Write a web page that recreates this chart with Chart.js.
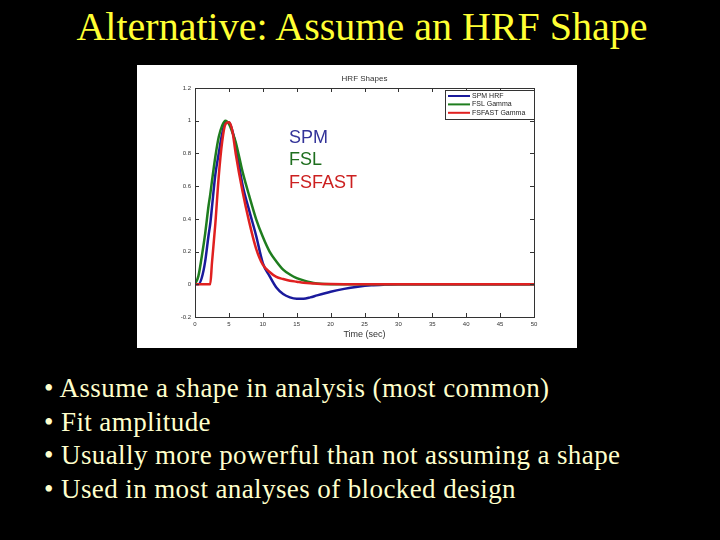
<!DOCTYPE html>
<html>
<head>
<meta charset="utf-8">
<script src="https://cdn.jsdelivr.net/npm/chart.js@4"></script>
<style>
  html, body { margin: 0; padding: 0; background: #000; }
  body { width: 720px; height: 540px; position: relative; overflow: hidden; }
  #title {
    position: absolute; left: 0; width: 724px; top: 3px; text-align: center;
    font-family: "Liberation Serif", serif; font-size: 40px; color: #ffff33;
  }
  #box {
    position: absolute; left: 137px; top: 65px; width: 440px; height: 283px; background: #fff;
  }
  #plotTitle {
    position: absolute; left: 58px; width: 339px; top: 9px; text-align: center;
    font-family: "Liberation Sans", Arial, sans-serif; font-size: 8px; color: #333;
  }
  .tag { position: absolute; left: 152px; font-family: "Liberation Sans", Arial, sans-serif; font-size: 18px; }
  #bullets {
    position: absolute; left: 44px; top: 372px; margin: 0; padding: 0; list-style: none;
    font-family: "Liberation Serif", serif; font-size: 27px; letter-spacing: 0.4px;
    line-height: 33.5px; color: #ffffcc;
  }
</style>
</head>
<body>
<div id="title">Alternative: Assume an HRF Shape</div>
<div id="box">
  <canvas id="hrfChart" width="440" height="283"></canvas>
  <div id="plotTitle">HRF Shapes</div>
  <div class="tag" style="top:62px;color:#333399">SPM</div>
  <div class="tag" style="top:84px;color:#1e6e1e">FSL</div>
  <div class="tag" style="top:107px;color:#cc2020">FSFAST</div>
</div>
<ul id="bullets">
  <li>• Assume a shape in analysis (most common)</li>
  <li>• Fit amplitude</li>
  <li>• Usually more powerful than not assuming a shape</li>
  <li>• Used in most analyses of blocked design</li>
</ul>
<script>
// time in seconds
const times = [0, 0.5, 1, 1.5, 2, 2.25, 2.5, 3, 3.5, 4, 4.5, 5, 5.5, 6, 7, 8, 9, 10, 11, 12, 13, 14, 15, 16, 17, 18, 20, 22, 24, 26, 28, 30, 35, 40, 45, 50];

const spmHrf = [0, 0, 0.04, 0.14, 0.3, 0.37, 0.47, 0.67, 0.8, 0.92, 0.99, 0.99, 0.94, 0.85, 0.61, 0.45, 0.3, 0.13, 0.05, -0.02, -0.06, -0.08, -0.088, -0.088, -0.08, -0.068, -0.046, -0.028, -0.015, -0.006, -0.002, 0, 0, 0, 0, 0];
const fslGamma = [0, 0.05, 0.17, 0.31, 0.48, 0.55, 0.63, 0.78, 0.9, 0.97, 1.0, 0.98, 0.93, 0.87, 0.69, 0.54, 0.4, 0.29, 0.2, 0.14, 0.09, 0.06, 0.038, 0.024, 0.012, 0.005, 0, 0, 0, 0, 0, 0, 0, 0, 0, 0];
const fsfastGamma = [0, 0, 0, 0, 0, 0, 0.13, 0.37, 0.66, 0.87, 0.98, 0.99, 0.94, 0.8, 0.57, 0.38, 0.22, 0.12, 0.075, 0.045, 0.032, 0.022, 0.016, 0.01, 0.006, 0.004, 0.001, 0, 0, 0, 0, 0, 0, 0, 0, 0];

const seriesNames = ["SPM HRF", "FSL Gamma", "FSFAST Gamma"];
const seriesColors = ["#1a1a9c", "#1e7d1e", "#e02020"];
const xTicks = [0, 5, 10, 15, 20, 25, 30, 35, 40, 45, 50];
const yTicks = [-0.2, 0, 0.2, 0.4, 0.6, 0.8, 1, 1.2];

const toPoints = (vals) => vals.map((v, i) => ({ x: times[i], y: v }));

// matlab style box with inward ticks + legend in the corner
const matlabBox = {
  id: "matlabBox",
  afterDraw(chart) {
    const { ctx, chartArea: a, scales } = chart;
    ctx.save();
    ctx.strokeStyle = "#333";
    ctx.lineWidth = 1;
    ctx.strokeRect(a.left + 0.5, a.top + 0.5, a.right - a.left, a.bottom - a.top);
    ctx.beginPath();
    xTicks.forEach((t) => {
      const x = Math.round(scales.x.getPixelForValue(t)) + 0.5;
      ctx.moveTo(x, a.bottom); ctx.lineTo(x, a.bottom - 4);
      ctx.moveTo(x, a.top); ctx.lineTo(x, a.top + 4);
    });
    yTicks.forEach((t) => {
      const y = Math.round(scales.y.getPixelForValue(t)) + 0.5;
      ctx.moveTo(a.left, y); ctx.lineTo(a.left + 4, y);
      ctx.moveTo(a.right, y); ctx.lineTo(a.right - 4, y);
    });
    ctx.stroke();

    // legend
    const lx = 308, ly = 25, lw = 89, lh = 29;
    ctx.fillStyle = "#fff";
    ctx.fillRect(lx, ly, lw, lh);
    ctx.strokeRect(lx + 0.5, ly + 0.5, lw, lh);
    ctx.font = "7px 'Liberation Sans', Arial, sans-serif";
    ctx.textBaseline = "middle";
    chart.data.datasets.forEach((ds, i) => {
      const y = ly + 6 + i * 8.4;
      ctx.strokeStyle = ds.borderColor;
      ctx.lineWidth = 2;
      ctx.beginPath();
      ctx.moveTo(lx + 3, y); ctx.lineTo(lx + 25, y);
      ctx.stroke();
      ctx.fillStyle = "#222";
      ctx.fillText(ds.label, lx + 27, y);
    });
    ctx.restore();
  },
};

new Chart(document.getElementById("hrfChart"), {
  type: "line",
  data: {
    datasets: [spmHrf, fslGamma, fsfastGamma].map((vals, i) => ({
      label: seriesNames[i],
      data: toPoints(vals),
      borderColor: seriesColors[i],
      borderWidth: 2.5,
      pointRadius: 0,
      cubicInterpolationMode: "monotone",
      order: 2 - i,
    })),
  },
  options: {
    responsive: false,
    animation: false,
    layout: { padding: { top: 23, right: 43, left: 0, bottom: 0 } },
    plugins: { legend: { display: false }, tooltip: { enabled: false } },
    scales: {
      x: {
        type: "linear",
        min: 0,
        max: 50,
        afterBuildTicks: (s) => { s.ticks = xTicks.map((v) => ({ value: v })); },
        afterFit: (s) => { s.height = 31; },
        grid: { display: false, drawTicks: false },
        border: { display: false },
        ticks: { color: "#333", font: { size: 6 }, padding: 4, maxRotation: 0 },
        title: {
          display: true,
          text: "Time (sec)",
          color: "#333",
          font: { size: 9, family: "'Liberation Sans', Arial, sans-serif" },
          padding: { top: 0, bottom: 8 },
        },
      },
      y: {
        min: -0.2,
        max: 1.2,
        afterBuildTicks: (s) => { s.ticks = yTicks.map((v) => ({ value: v })); },
        afterFit: (s) => { s.width = 58; },
        grid: { display: false, drawTicks: false },
        border: { display: false },
        ticks: {
          color: "#333",
          font: { size: 6 },
          padding: 4,
          callback: (v) => String(Number(v.toFixed(1))),
        },
      },
    },
  },
  plugins: [matlabBox],
});
</script>
</body>
</html>
